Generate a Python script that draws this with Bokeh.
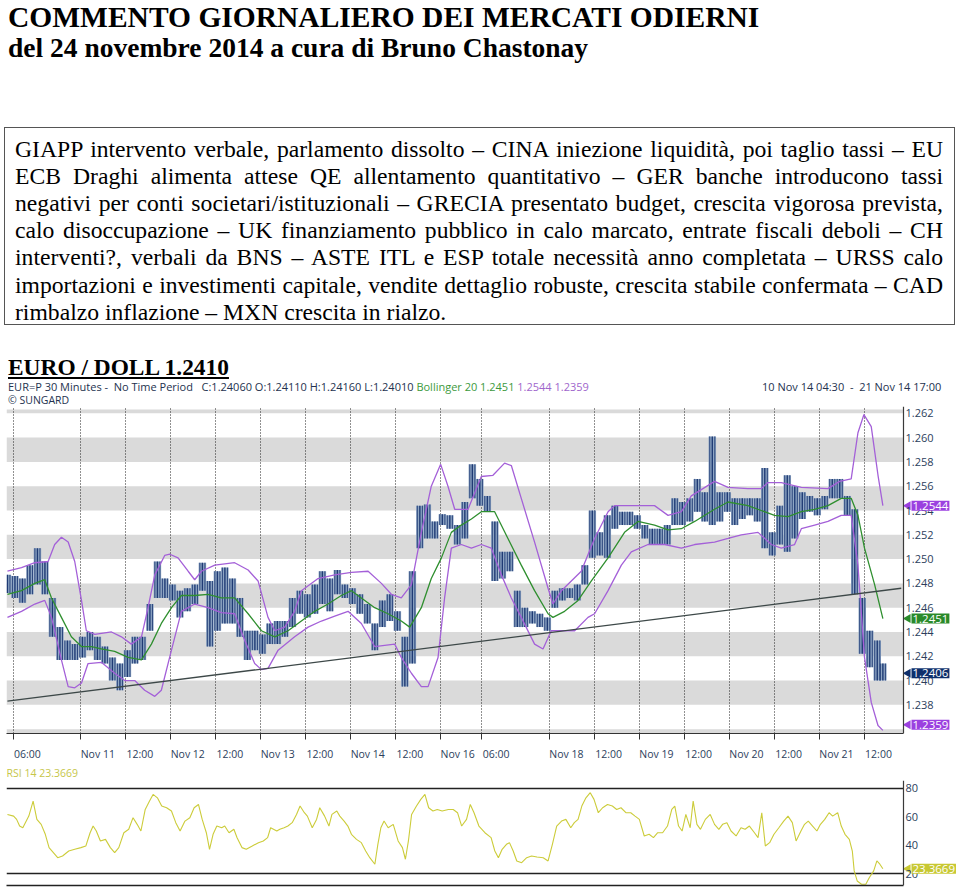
import math
from bokeh.plotting import figure
from bokeh.models import (Div, Range1d, FixedTicker, Label, LabelSet, ColumnDataSource,
                          Span, BoxAnnotation, LinearAxis)
from bokeh.layouts import column
from bokeh.embed import file_html
from bokeh.resources import INLINE
from bokeh.core.properties import value
from bokeh.transform import dodge

# ---------------- texts ----------------
title_lines = ["COMMENTO GIORNALIERO DEI MERCATI ODIERNI",
               "del 24 novembre 2014 a cura di Bruno Chastonay"]
para_lines = [
    "GIAPP intervento verbale, parlamento dissolto – CINA iniezione liquidità, poi taglio tassi – EU",
    "ECB Draghi alimenta attese QE allentamento quantitativo – GER banche introducono tassi",
    "negativi per conti societari/istituzionali – GRECIA presentato budget, crescita vigorosa prevista,",
    "calo disoccupazione – UK finanziamento pubblico in calo marcato, entrate fiscali deboli – CH",
    "interventi?, verbali da BNS – ASTE ITL e ESP totale necessità anno completata – URSS calo",
    "importazioni e investimenti capitale, vendite dettaglio robuste, crescita stabile confermata – CAD",
    "rimbalzo inflazione – MXN crescita in rialzo.",
]
chart_heading = "EURO / DOLL 1.2410"
info_main = "EUR=P 30 Minutes -  No Time Period   C:1.24060 O:1.24110 H:1.24160 L:1.24010 "
info_boll = "Bollinger 20 1.2451"
info_bands = "1.2544 1.2359"
info_range = "10 Nov 14 04:30  -  21 Nov 14 17:00"
info_src = "© SUNGARD"

# ---------------- data ----------------
# x axis: 30-minute bar index (0 = 10 Nov 04:30)
x_ticks = [3, 39, 63, 87, 111, 135, 159, 183, 207, 231, 253, 289, 313, 337, 361, 385, 409, 433, 457]
x_labels = ["06:00", "Nov 11", "12:00", "Nov 12", "12:00", "Nov 13", "12:00", "Nov 14", "12:00",
            "Nov 16", "06:00", "Nov 18", "12:00", "Nov 19", "12:00", "Nov 20", "12:00", "Nov 21", "12:00"]
price_ticks = [1.238, 1.240, 1.242, 1.244, 1.246, 1.248, 1.250, 1.252, 1.254, 1.256, 1.258, 1.260, 1.262]
band_bottoms = [1.234, 1.238, 1.242, 1.246, 1.250, 1.254, 1.258, 1.262]
band_step = 0.002

bar_idx = list(range(0, 468, 4)) + [467]
bar_high = [1.2487, 1.2486, 1.2484, 1.2495, 1.2509, 1.2498, 1.2468, 1.2444, 1.2433, 1.2430,
            1.2436, 1.2440, 1.2436, 1.2428, 1.2419, 1.2414, 1.2425, 1.2436, 1.2436, 1.2463,
            1.2498, 1.2484, 1.2479, 1.2474, 1.2476, 1.2479, 1.2497, 1.2482, 1.2490, 1.2493,
            1.2484, 1.2468, 1.2441, 1.2441, 1.2438, 1.2447, 1.2449, 1.2449, 1.2468, 1.2474,
            1.2471, 1.2479, 1.2490, 1.2484, 1.2491, 1.2479, 1.2476, 1.2471, 1.2463, 1.2447,
            1.2466, 1.2471, 1.2457, 1.2436, 1.2490, 1.2544, 1.2545, 1.2531, 1.2537, 1.2536,
            1.2528, 1.2547, 1.2578, 1.2566, 1.2552, 1.2531, 1.2506, 1.2506, 1.2474, 1.2460,
            1.2457, 1.2455, 1.2452, 1.2474, 1.2476, 1.2476, 1.2479, 1.2495, 1.2540, 1.2522,
            1.2536, 1.2544, 1.2539, 1.2539, 1.2536, 1.2528, 1.2525, 1.2525, 1.2528, 1.2550,
            1.2547, 1.2550, 1.2566, 1.2555, 1.2601, 1.2555, 1.2555, 1.2550, 1.2550, 1.2550,
            1.2550, 1.2575, 1.2522, 1.2544, 1.2569, 1.2560, 1.2555, 1.2552, 1.2550, 1.2552,
            1.2566, 1.2566, 1.2552, 1.2541, 1.2468, 1.2441, 1.2433, 1.2414]
bar_low = [1.2472, 1.2468, 1.2464, 1.2471, 1.2479, 1.2471, 1.2436, 1.2417, 1.2417, 1.2417,
           1.2419, 1.2425, 1.2417, 1.2414, 1.2400, 1.2392, 1.2403, 1.2414, 1.2417, 1.2441,
           1.2468, 1.2468, 1.2466, 1.2452, 1.2457, 1.2463, 1.2474, 1.2428, 1.2441, 1.2447,
           1.2447, 1.2436, 1.2417, 1.2425, 1.2422, 1.2430, 1.2430, 1.2436, 1.2444, 1.2455,
           1.2452, 1.2455, 1.2463, 1.2457, 1.2471, 1.2468, 1.2463, 1.2455, 1.2447, 1.2425,
           1.2444, 1.2449, 1.2441, 1.2395, 1.2414, 1.2509, 1.2517, 1.2517, 1.2528, 1.2525,
           1.2512, 1.2517, 1.2550, 1.2544, 1.2539, 1.2482, 1.2484, 1.2490, 1.2444, 1.2444,
           1.2447, 1.2444, 1.2441, 1.2460, 1.2466, 1.2468, 1.2466, 1.2479, 1.2501, 1.2503,
           1.2501, 1.2525, 1.2528, 1.2528, 1.2525, 1.2517, 1.2512, 1.2512, 1.2512, 1.2528,
           1.2528, 1.2531, 1.2539, 1.2531, 1.2528, 1.2531, 1.2539, 1.2528, 1.2533, 1.2536,
           1.2531, 1.2509, 1.2503, 1.2512, 1.2506, 1.2517, 1.2533, 1.2539, 1.2536, 1.2541,
           1.2550, 1.2550, 1.2536, 1.2471, 1.2422, 1.2411, 1.2400, 1.2400]
last_close = 1.2406

upper_x = [0, 7.5, 14.6, 21.7, 25.2, 28.8, 32.4, 35.9, 39.5, 42.1, 46.6, 55.5, 60.8, 66.1, 71.5, 75.0,
           78.6, 83.9, 86.6, 91.0, 96.4, 99.9, 103.5, 110.6, 121.2, 128.4, 133.7, 139.0, 142.6, 147.9,
           153.2, 156.8, 165.7, 174.6, 183.5, 192.4, 199.5, 204.8, 210.1, 215.5, 220.8, 226.1, 231.1,
           235.0, 238.6, 245.7, 252.8, 259.0, 265.2, 268.8, 274.1, 281.2, 288.4, 291.0, 295.5, 306.1,
           313.2, 320.4, 323.9, 332.8, 345.2, 352.4, 359.5, 364.8, 377.2, 384.4, 395.0, 402.1, 405.7,
           412.8, 423.5, 437.7, 443.9, 450.1, 453.7, 456.9, 460.8, 464.4, 467.0]
upper_y = [1.2490, 1.2493, 1.2497, 1.2498, 1.2512, 1.2518, 1.2514, 1.2498, 1.2466, 1.2441,
           1.2438, 1.2440, 1.2436, 1.2430, 1.2436, 1.2460, 1.2487, 1.2503, 1.2504, 1.2501,
           1.2490, 1.2483, 1.2490, 1.2495, 1.2497, 1.2491, 1.2482, 1.2452, 1.2441, 1.2444,
           1.2457, 1.2474, 1.2484, 1.2487, 1.2489, 1.2490, 1.2480, 1.2471, 1.2468, 1.2479,
           1.2522, 1.2560, 1.2578, 1.2560, 1.2541, 1.2541, 1.2568, 1.2569, 1.2579, 1.2577,
           1.2550, 1.2514, 1.2476, 1.2463, 1.2474, 1.2490, 1.2517, 1.2539, 1.2544, 1.2544,
           1.2544, 1.2536, 1.2539, 1.2552, 1.2564, 1.2559, 1.2558, 1.2558, 1.2563, 1.2563,
           1.2559, 1.2558, 1.2564, 1.2566, 1.2604, 1.2619, 1.2609, 1.2569, 1.2544]
mid_x = [0, 7.5, 14.6, 19.9, 23.5, 28.8, 34.1, 39.5, 44.8, 50.1, 57.2, 64.4, 71.5, 76.8, 82.1, 87.5,
         92.8, 99.9, 107.0, 114.1, 121.2, 128.4, 135.5, 142.6, 149.7, 156.8, 163.9, 171.0, 178.1,
         183.5, 188.8, 195.9, 203.0, 210.1, 214.6, 220.8, 226.1, 231.5, 236.8, 242.1, 247.5, 252.8,
         259.9, 267.0, 274.1, 281.2, 288.4, 291.0, 297.2, 304.4, 311.5, 320.4, 329.2, 336.4, 345.2,
         352.4, 359.5, 366.6, 377.2, 384.4, 395.0, 402.1, 409.2, 416.4, 423.5, 430.6, 437.7, 444.8,
         450.1, 453.7, 457.2, 462.6, 467.0]
mid_y = [1.2471, 1.2474, 1.2480, 1.2483, 1.2468, 1.2452, 1.2436, 1.2428, 1.2428, 1.2426,
         1.2424, 1.2419, 1.2417, 1.2430, 1.2447, 1.2460, 1.2470, 1.2470, 1.2471, 1.2468,
         1.2468, 1.2455, 1.2441, 1.2436, 1.2441, 1.2449, 1.2457, 1.2463, 1.2470, 1.2474,
         1.2468, 1.2460, 1.2455, 1.2449, 1.2444, 1.2460, 1.2484, 1.2501, 1.2522, 1.2528,
         1.2533, 1.2539, 1.2539, 1.2517, 1.2495, 1.2474, 1.2455, 1.2452, 1.2457, 1.2466,
         1.2482, 1.2501, 1.2522, 1.2531, 1.2528, 1.2524, 1.2525, 1.2531, 1.2541, 1.2547,
         1.2544, 1.2540, 1.2536, 1.2535, 1.2539, 1.2541, 1.2544, 1.2550, 1.2550, 1.2536,
         1.2509, 1.2479, 1.2451]
lower_x = [0, 7.5, 14.6, 19.9, 23.5, 28.8, 32.4, 35.9, 39.5, 43.0, 50.1, 57.2, 62.6, 67.9, 73.2,
           78.6, 82.1, 87.5, 92.8, 99.9, 107.0, 114.1, 121.2, 126.6, 131.9, 135.5, 139.0, 144.4,
           153.2, 160.4, 167.5, 174.6, 181.7, 188.8, 195.9, 201.2, 206.6, 210.1, 215.5, 220.8,
           224.4, 229.7, 233.2, 236.8, 242.1, 247.5, 252.8, 258.1, 263.5, 268.8, 274.1, 281.2,
           285.7, 290.1, 295.5, 302.6, 309.7, 313.2, 320.4, 327.5, 332.8, 341.7, 350.6, 359.5,
           366.6, 377.2, 384.4, 391.5, 400.4, 407.5, 412.8, 419.9, 423.5, 430.6, 437.7, 444.8,
           450.1, 453.7, 457.2, 460.8, 464.4, 467.0]
lower_y = [1.2452, 1.2457, 1.2463, 1.2466, 1.2452, 1.2417, 1.2395, 1.2394, 1.2398, 1.2414,
           1.2415, 1.2406, 1.2400, 1.2400, 1.2392, 1.2387, 1.2392, 1.2425, 1.2457, 1.2463,
           1.2460, 1.2456, 1.2455, 1.2433, 1.2414, 1.2409, 1.2410, 1.2425, 1.2436, 1.2444,
           1.2449, 1.2453, 1.2457, 1.2447, 1.2428, 1.2429, 1.2430, 1.2419, 1.2406, 1.2395,
           1.2395, 1.2419, 1.2468, 1.2509, 1.2512, 1.2509, 1.2512, 1.2509, 1.2487, 1.2468,
           1.2452, 1.2430, 1.2426, 1.2441, 1.2441, 1.2441, 1.2452, 1.2455, 1.2474, 1.2495,
           1.2506, 1.2512, 1.2512, 1.2509, 1.2512, 1.2514, 1.2517, 1.2520, 1.2522, 1.2512,
           1.2509, 1.2512, 1.2525, 1.2528, 1.2531, 1.2536, 1.2536, 1.2495, 1.2419, 1.2382,
           1.2363, 1.2359]
trend_x = [0, 476.8]
trend_y = [1.2383, 1.2476]

rsi_x = [0, 3.3, 4.9, 6.5, 8.2, 11.4, 13.7, 15.7, 18.0, 20.2,
         22.2, 24.5, 26.8, 29.4, 32.7, 35.9, 39.2, 41.8, 44.1, 45.7,
         47.4, 49.6, 52.3, 54.9, 57.2, 59.4, 62.1, 64.7, 67.0, 69.2,
         71.2, 73.5, 75.8, 77.7, 80.0, 82.3, 84.9, 87.5, 89.8, 92.1,
         94.7, 97.3, 99.6, 101.9, 103.9, 106.1, 107.8, 109.7, 111.7, 114.3,
         115.9, 118.2, 120.8, 122.5, 125.1, 127.4, 130.6, 133.9, 136.5, 138.8,
         140.4, 143.7, 145.3, 147.6, 149.6, 151.9, 154.2, 156.1, 158.4, 160.0,
         162.6, 164.9, 166.6, 169.2, 171.5, 173.1, 175.7, 177.3, 179.6, 181.6,
         183.5, 186.2, 188.8, 191.1, 193.3, 196.0, 197.6, 199.2, 200.9, 203.1,
         205.8, 208.4, 210.7, 212.3, 213.9, 215.6, 218.2, 220.5, 222.7, 224.7,
         227.0, 229.3, 231.9, 235.2, 237.8, 240.1, 242.3, 244.9, 246.9, 248.9,
         251.5, 254.7, 258.0, 260.0, 261.9, 263.9, 266.2, 267.8, 269.8, 271.7,
         274.3, 277.0, 279.6, 282.5, 285.8, 288.4, 290.7, 293.0, 295.6, 297.9,
         300.5, 302.4, 304.4, 306.4, 308.6, 310.9, 312.9, 315.2, 317.5, 320.1,
         322.7, 325.0, 327.3, 329.9, 332.5, 334.8, 337.1, 339.7, 342.3, 344.6,
         346.9, 349.5, 352.1, 354.4, 356.0, 358.0, 359.9, 361.9, 364.2, 365.8,
         367.8, 369.7, 372.3, 374.9, 377.2, 379.5, 381.5, 383.8, 386.0, 388.7,
         391.3, 393.5, 395.8, 398.5, 400.4, 402.4, 404.3, 406.6, 408.9, 411.5,
         414.1, 416.4, 418.7, 420.7, 423.3, 425.2, 427.2, 429.5, 431.8, 433.7,
         436.0, 438.3, 440.2, 442.9, 444.8, 446.8, 449.1, 450.7, 451.7, 453.3,
         455.6, 457.9, 459.8, 462.1, 463.8, 465.4, 467.0]
rsi_y = [61.7, 60.5, 58.2, 53.5, 52.3, 60.5, 71.1, 58.2, 54.7, 47.7,
         38.3, 34.8, 31.2, 32.4, 35.9, 37.1, 38.3, 39.4, 48.8, 53.5,
         50.0, 43.0, 44.1, 38.3, 34.8, 38.3, 48.8, 51.2, 59.4, 54.7,
         50.0, 65.2, 71.1, 75.8, 73.4, 67.6, 66.4, 64.1, 55.9, 50.0,
         57.0, 59.4, 66.4, 68.7, 58.2, 48.8, 37.1, 47.7, 53.5, 52.3,
         53.5, 48.8, 51.2, 45.3, 38.3, 37.1, 39.4, 41.8, 43.0, 45.3,
         52.3, 50.0, 51.2, 52.3, 53.5, 55.9, 61.7, 67.6, 62.9, 60.5,
         52.3, 58.2, 66.4, 60.5, 53.5, 61.7, 64.1, 60.5, 57.0, 53.5,
         47.7, 44.1, 41.8, 35.9, 31.2, 26.6, 40.6, 52.3, 57.0, 52.3,
         54.7, 43.0, 38.3, 30.1, 43.0, 61.7, 67.6, 72.3, 75.8, 66.4,
         64.1, 65.2, 64.1, 65.2, 65.2, 62.9, 53.5, 58.2, 68.7, 62.9,
         53.5, 48.8, 45.3, 35.9, 31.2, 37.1, 40.6, 41.8, 35.9, 28.9,
         27.7, 31.2, 32.4, 31.7, 31.2, 28.9, 40.6, 53.5, 57.0, 58.2,
         52.3, 55.9, 58.2, 67.6, 73.4, 77.0, 72.3, 62.9, 66.4, 68.7,
         67.6, 65.2, 66.4, 62.9, 62.9, 60.5, 58.2, 46.5, 47.7, 45.3,
         48.8, 48.8, 53.5, 65.2, 67.6, 53.5, 50.0, 61.7, 52.3, 71.1,
         54.7, 51.2, 58.2, 61.7, 54.7, 51.2, 54.7, 55.9, 50.0, 46.5,
         52.3, 51.2, 53.5, 48.8, 45.3, 62.9, 39.4, 41.8, 47.7, 52.3,
         57.0, 60.5, 55.9, 43.0, 50.0, 54.7, 57.0, 53.5, 50.0, 54.7,
         58.2, 62.9, 60.5, 62.9, 53.5, 47.7, 44.1, 35.9, 21.9, 14.8,
         12.5, 12.5, 17.2, 21.9, 28.9, 26.6, 23.3669]
rsi_levels = [80, 20]
rsi_ticks = [20, 40, 60, 80]

# ---------------- layout constants ----------------
W = 960
HDR_H = 406
MAIN_H = 357
RSI_H = 129
FRAME_L = 6
X_START, X_AXIS = -0.5, 478.0           # price pane spans these bar indices
PX_PER_BAR = 1.8746
X_END = X_START + (W - FRAME_L) / PX_PER_BAR
PRICE_BOTTOM, PRICE_TOP = 1.23564, 1.26232
Y_PER_PX = (PRICE_TOP - PRICE_BOTTOM) / 330.0
Y_END = PRICE_TOP + 3 * Y_PER_PX

LABEL_COL = "#2c3e5c"
NAVY = "#24324f"
SANS = "'Open Sans',sans-serif"
SERIF = "'Liberation Serif','Times New Roman',serif"

# ---------------- header (HTML text) ----------------
parts = []
parts.append(f'<div style="position:absolute;left:8px;top:2px;font:bold 29.5px/30px {SERIF};white-space:nowrap">{title_lines[0]}</div>')
parts.append(f'<div style="position:absolute;left:8px;top:33px;font:bold 27.5px/30px {SERIF};white-space:nowrap">{title_lines[1]}</div>')
parts.append('<div style="position:absolute;left:4px;top:127px;width:951px;height:198px;border:1px solid #555;box-sizing:border-box"></div>')
scale = 0.985
for k, line in enumerate(para_lines):
    last_align = "left" if k == len(para_lines) - 1 else "justify"
    top = 135.5 + 27.2 * k
    parts.append(f'<div style="position:absolute;left:15px;top:{top:.1f}px;width:{928/scale:.1f}px;'
                 f'font:24px/27px {SERIF};text-align:justify;text-align-last:{last_align};white-space:nowrap;'
                 f'transform:scaleX({scale});transform-origin:0 0">{line}</div>')
parts.append(f'<div style="position:absolute;left:8px;top:355px;font:bold 23.4px/24px {SERIF};text-decoration:underline;white-space:nowrap">{chart_heading}</div>')
parts.append(f'<div style="position:absolute;left:8px;top:381px;font:11px/12px {SANS};color:{NAVY};white-space:pre">{info_main}'
             f'<span style="color:#3d9a3d">{info_boll}</span> <span style="color:#a066cc">{info_bands}</span></div>')
parts.append(f'<div style="position:absolute;left:762px;top:381px;font:11px/12px {SANS};color:{NAVY};white-space:pre">{info_range}</div>')
parts.append(f'<div style="position:absolute;left:8px;top:394px;font:10.5px/12px {SANS};color:{NAVY};white-space:pre">{info_src}</div>')
html = (f'<div style="position:relative;width:{W}px;height:{HDR_H}px;background:#fff;color:#000;overflow:hidden">'
        + "".join(parts) + '</div>')
hdr = Div(text=html, width=W, height=HDR_H, margin=0)

# ---------------- main price chart ----------------
p = figure(width=W, height=MAIN_H, x_range=Range1d(X_START, X_END), y_range=Range1d(PRICE_BOTTOM, Y_END),
           output_backend="svg", toolbar_location=None, y_axis_location=None,
           min_border_left=FRAME_L, min_border_right=0, min_border_top=0, min_border_bottom=24,
           title_location=None)
p.outline_line_color = None
p.background_fill_color = "white"
p.border_fill_color = "white"
p.ygrid.visible = False
p.xgrid.ticker = FixedTicker(ticks=x_ticks)
p.xgrid.grid_line_color = "#222222"
p.xgrid.grid_line_dash = "1 2"
p.xgrid.grid_line_width = 1

for b in band_bottoms:
    p.add_layout(BoxAnnotation(bottom=b, top=min(b + band_step, PRICE_TOP), right=X_AXIS,
                               fill_color="#dadada", fill_alpha=1.0, line_color=None, level="image"))

# OHLC bars drawn as a dense bar texture (light body + dark strokes)
bsrc = ColumnDataSource(dict(x=bar_idx, hi=bar_high, lo=bar_low))
p.vbar(x="x", bottom="lo", top="hi", width=4.0, fill_color="#8ea6c4", line_color=None, source=bsrc)
for dx, lw in [(-1.35, 0.9), (0.0, 1.4), (1.35, 0.9)]:
    p.segment(x0=dodge("x", dx), y0="lo", x1=dodge("x", dx), y1="hi", line_color="#1f3a74",
              line_width=lw, source=bsrc)

p.line(upper_x, upper_y, line_color="#a460d8", line_width=1.3)
p.line(lower_x, lower_y, line_color="#a460d8", line_width=1.3)
p.line(mid_x, mid_y, line_color="#2f8f2f", line_width=1.3)
p.line(trend_x, trend_y, line_color="#3d4848", line_width=1.3)

# price scale (right edge of the price pane)
p.add_layout(Span(location=X_AXIS, dimension="height", line_color="#3a3a3a", line_width=1.2))
psrc = ColumnDataSource(dict(x=[X_AXIS] * len(price_ticks), y=price_ticks,
                             text=[f"{t:.3f}" for t in price_ticks]))
p.add_layout(LabelSet(x="x", y="y", text="text", source=psrc, x_offset=2, text_align="left",
                      text_baseline="middle", text_font=value("Open Sans"), text_font_size="11px",
                      text_color=LABEL_COL))

# time axis: tick marks
xa = p.xaxis[0]
xa.ticker = FixedTicker(ticks=x_ticks)
xa.bounds = (X_START, X_AXIS)
xa.major_label_overrides = {t: "" for t in x_ticks}
xa.major_label_text_font_size = "1px"
xa.major_label_standoff = 0
xa.major_tick_out = 6
xa.major_tick_in = 0
xa.major_tick_line_color = "#333333"
xa.minor_tick_line_color = None
xa.axis_line_color = "#333333"
# time axis: labels placed to the right of their ticks
label_pos = [t + 0.5 * 5.75 * len(lbl) / PX_PER_BAR for t, lbl in zip(x_ticks, x_labels)]
xb = LinearAxis(ticker=FixedTicker(ticks=label_pos),
                major_label_overrides={pos: lbl for pos, lbl in zip(label_pos, x_labels)})
xb.axis_line_color = None
xb.major_tick_line_color = None
xb.minor_tick_line_color = None
xb.major_label_standoff = 1
xb.major_label_text_font = "Open Sans"
xb.major_label_text_font_size = "10.5px"
xb.major_label_text_color = LABEL_COL
p.add_layout(xb, "below")

# value tags on the price scale
tag_min = PRICE_BOTTOM + 9 * Y_PER_PX
tags = [(upper_y[-1], "#9b40e0"), (mid_y[-1], "#2a8a2a"), (last_close, "#0e2f6b"), (lower_y[-1], "#9b40e0")]
tri_x, tri_y, tri_c = [], [], []
for v, col in tags:
    ty = max(v, tag_min)
    p.add_layout(Label(x=X_AXIS, y=ty, text=f"{v:.4f}", x_offset=8, text_align="left",
                       text_baseline="middle", text_color="white", text_font="Open Sans",
                       text_font_size="11.5px", background_fill_color=col, padding=1))
    tri_x.append(X_AXIS + 2.4)
    tri_y.append(ty)
    tri_c.append(col)
p.scatter(tri_x, tri_y, marker="triangle", size=9, angle=math.pi / 2, fill_color=tri_c,
          line_color=None)

# ---------------- RSI chart ----------------
r = figure(width=W, height=RSI_H, x_range=p.x_range, y_range=Range1d(11.6, 85.6),
           output_backend="svg", toolbar_location=None, y_axis_location=None,
           min_border_left=FRAME_L, min_border_right=0, min_border_top=13, min_border_bottom=7,
           title=f"RSI 14  {rsi_y[-1]:.4f}")
r.title.text_font = "Open Sans"
r.title.text_font_size = "10.5px"
r.title.text_font_style = "normal"
r.title.text_color = "#c6c64a"
r.title.standoff = 1
r.title.offset = 0
r.outline_line_color = None
r.grid.visible = False
xa2 = r.xaxis[0]
xa2.ticker = FixedTicker(ticks=[])
xa2.bounds = (X_START, X_AXIS)
xa2.axis_line_color = "#222222"
xa2.axis_line_width = 1.5
xa2.major_tick_line_color = None
xa2.minor_tick_line_color = None
xa2.major_label_text_font_size = "1px"
r.add_layout(Span(location=X_AXIS, dimension="height", line_color="#3a3a3a", line_width=1.2))
rsrc = ColumnDataSource(dict(x=[X_AXIS] * len(rsi_ticks), y=rsi_ticks, text=[str(t) for t in rsi_ticks]))
r.add_layout(LabelSet(x="x", y="y", text="text", source=rsrc, x_offset=2, text_align="left",
                      text_baseline="middle", text_font=value("Open Sans"), text_font_size="11px",
                      text_color=LABEL_COL))
r.segment(x0=[X_START] * len(rsi_levels), y0=rsi_levels, x1=[X_AXIS] * len(rsi_levels), y1=rsi_levels,
          line_color="#222222", line_width=1.5)
r.line(rsi_x, rsi_y, line_color="#cccc3a", line_width=1.1)
r.add_layout(Label(x=X_AXIS, y=rsi_y[-1], text=f"{rsi_y[-1]:.4f}", x_offset=8, text_align="left",
                   text_baseline="middle", text_color="white", text_font="Open Sans",
                   text_font_size="11.5px", background_fill_color="#c8c832", padding=1))
r.scatter([X_AXIS + 2.4], [rsi_y[-1]], marker="triangle", size=9, angle=math.pi / 2,
          fill_color="#c8c832", line_color=None)

layout = column(hdr, p, r, spacing=0, margin=0)
open("out.html", "w").write(file_html(layout, INLINE))
